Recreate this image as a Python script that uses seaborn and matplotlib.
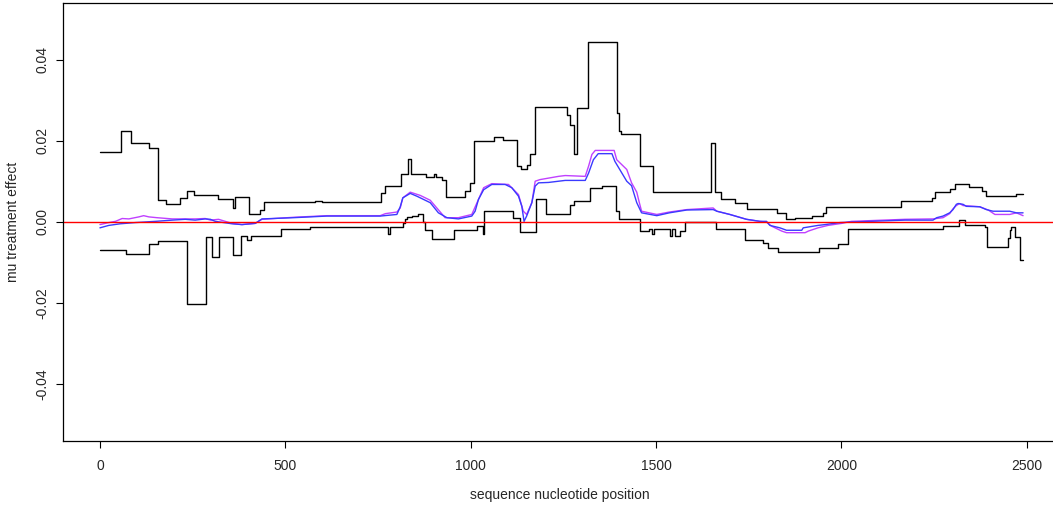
import matplotlib
matplotlib.use("Agg")
import matplotlib.pyplot as plt
import seaborn as sns
import pandas as pd

# ---- data ----
upper_x = [0, 58, 84, 133, 157, 178, 217, 235, 255, 319, 358, 365, 403, 431, 442, 581, 599, 759, 768, 812,
           832, 840, 880, 902, 907, 922, 933, 985, 997, 1010, 1063, 1088, 1126, 1135, 1151, 1160, 1174, 1250, 1261, 1268,
           1279, 1286, 1316, 1395, 1400, 1405, 1457, 1493, 1647, 1659, 1675, 1713, 1744, 1825, 1850, 1875, 1920, 1951, 1958, 2162,
           2243, 2252, 2294, 2306, 2344, 2378, 2389, 2470, 2490]
upper_y = [0.0171, 0.0223, 0.0194, 0.0182, 0.0053, 0.0043, 0.0059, 0.0075, 0.0067, 0.0055,
           0.0034, 0.0061, 0.0020, 0.0029, 0.0048, 0.0051, 0.0048, 0.0070, 0.0088, 0.0119,
           0.0156, 0.0119, 0.0111, 0.0117, 0.0110, 0.0104, 0.0061, 0.0075, 0.0096, 0.0200,
           0.0209, 0.0202, 0.0138, 0.0129, 0.0141, 0.0168, 0.0284, 0.0282, 0.0264, 0.0239,
           0.0166, 0.0280, 0.0444, 0.0268, 0.0225, 0.0217, 0.0137, 0.0073, 0.0194, 0.0073,
           0.0055, 0.0047, 0.0032, 0.0022, 0.0006, 0.0009, 0.0015, 0.0022, 0.0037, 0.0051,
           0.0059, 0.0073, 0.0081, 0.0092, 0.0086, 0.0075, 0.0063, 0.0069, 0.0069]

lower_x = [0, 71, 133, 157, 235, 287, 302, 322, 358, 381, 397, 408, 488, 567, 778, 782, 817, 822, 828, 842,
           859, 871, 877, 895, 956, 1017, 1034, 1036, 1113, 1133, 1176, 1203, 1269, 1278, 1323, 1354, 1391, 1400, 1457, 1482,
           1488, 1495, 1538, 1543, 1551, 1565, 1578, 1662, 1741, 1789, 1801, 1828, 1940, 1992, 2019, 2273, 2317, 2333, 2387, 2393,
           2450, 2454, 2458, 2469, 2482, 2490]
lower_y = [-0.0070, -0.0080, -0.0056, -0.0048, -0.0203, -0.0037, -0.0086, -0.0037, -0.0083, -0.0034,
           -0.0045, -0.0034, -0.0019, -0.0013, -0.0030, -0.0013, -0.0002, 0.0008, 0.0011, 0.0014,
           0.0020, -0.0001, -0.0021, -0.0042, -0.0021, -0.0011, -0.0031, 0.0026, 0.0010, -0.0025,
           0.0055, 0.0020, 0.0041, 0.0051, 0.0084, 0.0088, 0.0026, 0.0006, -0.0023, -0.0017,
           -0.0029, -0.0019, -0.0035, -0.0019, -0.0035, -0.0023, -0.0001, -0.0019, -0.0045, -0.0052,
           -0.0066, -0.0074, -0.0066, -0.0056, -0.0017, -0.0010, 0.0004, -0.0009, -0.0014, -0.0062,
           -0.0040, -0.0020, -0.0012, -0.0037, -0.0094, -0.0094]

blue_x = [0, 24, 55, 96, 150, 195, 230, 257, 284, 298, 311, 356, 383, 419, 437, 522, 612, 756, 801, 810,
          817, 837, 855, 891, 913, 936, 967, 1003, 1012, 1021, 1035, 1057, 1093, 1111, 1129, 1138, 1144, 1151, 1165, 1174,
          1183, 1210, 1255, 1309, 1318, 1331, 1344, 1381, 1389, 1421, 1434, 1448, 1461, 1502, 1536, 1583, 1654, 1664, 1699, 1744,
          1780, 1798, 1807, 1834, 1852, 1893, 1897, 1937, 1956, 1996, 2018, 2171, 2247, 2257, 2274, 2292, 2301, 2310, 2315, 2328,
          2337, 2373, 2391, 2409, 2454, 2472, 2490]
blue_y = [-0.0015, -0.0009, -0.0005, -0.0002, 0.0001, 0.0004, 0.0006, 0.0004, 0.0007, 0.0006,
          0.0001, -0.0005, -0.0007, -0.0004, 0.0007, 0.0010, 0.0014, 0.0014, 0.0018, 0.0037,
          0.0059, 0.0070, 0.0063, 0.0047, 0.0022, 0.0010, 0.0007, 0.0014, 0.0026, 0.0055,
          0.0079, 0.0092, 0.0092, 0.0084, 0.0063, 0.0038, 0.0001, 0.0014, 0.0047, 0.0088,
          0.0096, 0.0097, 0.0102, 0.0102, 0.0120, 0.0153, 0.0168, 0.0168, 0.0149, 0.0100,
          0.0089, 0.0047, 0.0022, 0.0015, 0.0022, 0.0029, 0.0030, 0.0026, 0.0018, 0.0006,
          0.0001, 0.0001, -0.0009, -0.0015, -0.0021, -0.0021, -0.0015, -0.0009, -0.0007, -0.0002,
          -0.0001, 0.0004, 0.0004, 0.0010, 0.0014, 0.0022, 0.0030, 0.0043, 0.0045, 0.0043,
          0.0038, 0.0037, 0.0030, 0.0026, 0.0026, 0.0022, 0.0022]

magenta_x = [0, 24, 42, 60, 78, 105, 118, 132, 154, 195, 257, 284, 298, 320, 356, 383, 419, 437, 522, 612,
             756, 770, 801, 810, 817, 837, 864, 891, 918, 931, 967, 1003, 1021, 1035, 1057, 1102, 1129, 1142, 1151, 1165,
             1174, 1187, 1237, 1255, 1309, 1318, 1327, 1336, 1387, 1394, 1421, 1434, 1448, 1455, 1461, 1502, 1536, 1583, 1654, 1664,
             1699, 1744, 1780, 1798, 1812, 1839, 1852, 1902, 1911, 1937, 1964, 2001, 2027, 2171, 2247, 2274, 2292, 2301, 2310, 2319,
             2328, 2373, 2396, 2414, 2454, 2472, 2490]
magenta_y = [-0.0007, -0.0002, 0.0001, 0.0008, 0.0007, 0.0012, 0.0015, 0.0012, 0.0010, 0.0007,
             0.0007, 0.0008, 0.0004, 0.0006, -0.0004, -0.0007, -0.0004, 0.0006, 0.0011, 0.0015,
             0.0015, 0.0020, 0.0024, 0.0034, 0.0059, 0.0073, 0.0065, 0.0053, 0.0024, 0.0010,
             0.0010, 0.0018, 0.0055, 0.0084, 0.0094, 0.0092, 0.0067, 0.0026, 0.0018, 0.0047,
             0.0100, 0.0104, 0.0112, 0.0114, 0.0112, 0.0137, 0.0166, 0.0176, 0.0176, 0.0153,
             0.0129, 0.0096, 0.0073, 0.0047, 0.0026, 0.0018, 0.0024, 0.0030, 0.0034, 0.0026,
             0.0018, 0.0006, 0.0001, -0.0001, -0.0011, -0.0023, -0.0027, -0.0027, -0.0023, -0.0015,
             -0.0009, -0.0004, 0.0001, 0.0006, 0.0007, 0.0010, 0.0020, 0.0032, 0.0040, 0.0045,
             0.0040, 0.0037, 0.0029, 0.0018, 0.0018, 0.0022, 0.0015]

x_ticks = [0, 500, 1000, 1500, 2000, 2500]
x_tick_labels = ["0", "500", "1000", "1500", "2000", "2500"]
y_ticks = [-0.04, -0.02, 0.00, 0.02, 0.04]
y_tick_labels = ["-0.04", "-0.02", "0.00", "0.02", "0.04"]
x_label = "sequence nucleotide position"
y_label = "mu treatment effect"

# ---- style ----
sns.set_style("white")
plt.rcParams["font.family"] = ["Liberation Sans", "DejaVu Sans"]

W, H = 1053, 508
fig = plt.figure(figsize=(W / 100, H / 100), dpi=100)
ax = fig.add_axes([63 / W, 1 - 441 / H, (1060 - 63) / W, (441 - 2.5) / H])

sns.lineplot(x=upper_x, y=upper_y, ax=ax, color="black", linewidth=1.0,
             drawstyle="steps-post", estimator=None, sort=False)
sns.lineplot(x=lower_x, y=lower_y, ax=ax, color="black", linewidth=1.0,
             drawstyle="steps-post", estimator=None, sort=False)
sns.lineplot(x=magenta_x, y=magenta_y, ax=ax, color="#c040ff", linewidth=1.0,
             estimator=None, sort=False)
sns.lineplot(x=blue_x, y=blue_y, ax=ax, color="#3a3aff", linewidth=1.0,
             estimator=None, sort=False)
ax.axhline(0, color="red", linewidth=1.0)

ax.set_xlim(-99.6, 2589.6)
ax.set_ylim(-0.0541, 0.0541)

ax.set_xticks(x_ticks)
ax.set_xticklabels(x_tick_labels, fontsize=10)
ax.set_yticks(y_ticks)
ax.set_yticklabels(y_tick_labels, fontsize=10, rotation=90, va="center")

ax.tick_params(axis="both", direction="out", length=5, width=0.8, color="black",
               bottom=True, left=True)
ax.tick_params(axis="x", pad=8)
ax.tick_params(axis="y", pad=5)

for s in ax.spines.values():
    s.set_visible(True)
    s.set_color("black")
    s.set_linewidth(0.9)

ax.set_xlabel("")
ax.set_ylabel("")
fig.text(560 / W, 1 - 495 / H, x_label, ha="center", va="center", fontsize=10)
fig.text(13 / W, 1 - 222 / H, y_label, ha="center", va="center", rotation=90, fontsize=10)

fig.savefig("out.png", dpi=100)
